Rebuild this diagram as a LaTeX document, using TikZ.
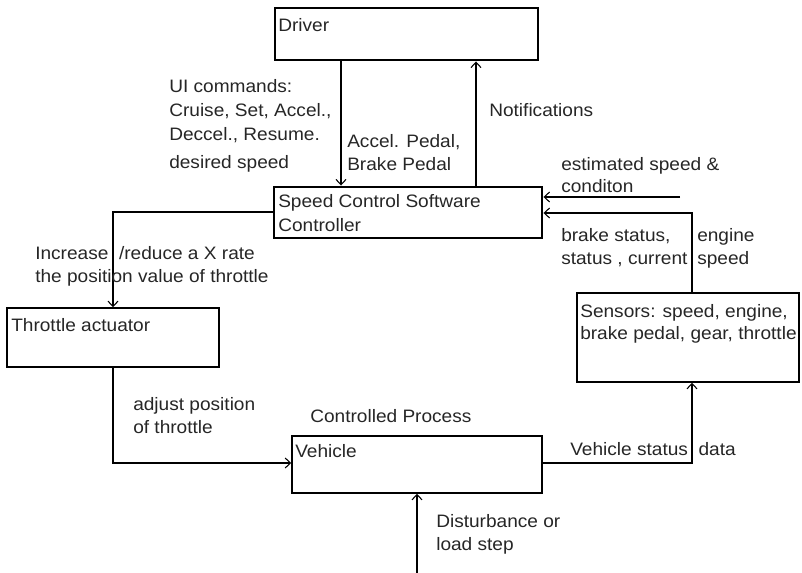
\documentclass[tikz,border=0pt]{standalone}
\usepackage{fontspec}
\setmainfont[FakeStretch=1.06]{Liberation Sans}
\usetikzlibrary{arrows.meta,fit}
\begin{document}
\begin{tikzpicture}[x=0.75pt,y=-0.75pt,
  thinbox/.style={draw, line width=1.1pt, inner sep=0pt},
  thickbox/.style={draw, line width=2.2pt, inner sep=0pt},
  arr/.style={draw, line width=0.8pt, -{Straight Barb[length=4pt,width=7.5pt,line width=0.8pt]}},
  lbl/.style={anchor=base west, inner sep=0pt, text=black!85,
    font=\fontsize{13.5}{16}\selectfont}]
\useasboundingbox (0,0) rectangle (802,573);

% box corners
\coordinate (drvA) at (275,8);   \coordinate (drvB) at (538,60);
\coordinate (ctlA) at (274,187); \coordinate (ctlB) at (542,238);
\coordinate (thrA) at (7,308);   \coordinate (thrB) at (219,367);
\coordinate (vehA) at (292,436); \coordinate (vehB) at (542,493);
\coordinate (senA) at (577,293); \coordinate (senB) at (799,382);

\node[thickbox, fit=(drvA)(drvB)] (driver) {};
\node[thickbox, fit=(ctlA)(ctlB)] (ctrl) {};
\node[thinbox, fit=(thrA)(thrB)] (thr) {};
\node[thinbox, fit=(vehA)(vehB)] (veh) {};
\node[thinbox, fit=(senA)(senB)] (sen) {};

% connector columns and rows
\coordinate (colCmd) at (341,0);
\coordinate (colNote) at (476,0);
\coordinate (colThr) at (113,0);
\coordinate (colSen) at (692,0);
\coordinate (colDist) at (417,0);
\coordinate (rowThr) at (0,212);
\coordinate (rowSen) at (0,213);
\coordinate (rowVeh) at (0,463);
\coordinate (estStart) at (680,197);
\coordinate (distStart) at (417,573);

\draw[arr] (driver.south -| colCmd) -- (ctrl.north -| colCmd);
\draw[arr] (ctrl.north -| colNote) -- (driver.south -| colNote);
\draw[arr] (ctrl.west |- rowThr) -| (thr.north -| colThr);
\draw[arr] (thr.south -| colThr) |- (veh.west |- rowVeh);
\draw[arr] (veh.east |- rowVeh) -| (sen.south -| colSen);
\draw[arr] (sen.north -| colSen) |- (ctrl.east |- rowSen);
\draw[arr] (estStart) -- (ctrl.east |- estStart);
\draw[arr] (distStart) -- (veh.south -| colDist);

% box texts
\node[lbl] (tDriver) at (278,32) {Driver};
\node[lbl] (tCtrl1) at (278,208) {Speed Control Software};
\node[lbl] (tCtrl2) at (278,232) {Controller};
\node[lbl] (tThr) at (11,331) {Throttle actuator};
\node[lbl] (tVeh) at (295,457) {Vehicle};
\node[lbl] (tSen1) at (580,317) {Sensors: speed, engine,};
\node[lbl] (tSen2) at (580,339) {brake pedal, gear, throttle};

% connector labels
\node[lbl] (tUi1) at (169,93) {UI commands:};
\node[lbl] (tUi2) at (169,117) {Cruise, Set, Accel.,};
\node[lbl] (tUi3) at (169,141) {Deccel., Resume.};
\node[lbl] (tUi4) at (169,169) {desired speed};
\node[lbl] (tPed1) at (347,148) {Accel. Pedal,};
\node[lbl] (tPed2) at (347,171) {Brake Pedal};
\node[lbl] (tNote) at (489,117) {Notifications};
\node[lbl] (tInc1) at (35,260) {Increase\ \ /reduce a X rate};
\node[lbl] (tInc2) at (35,283) {the position value of throttle};
\node[lbl] (tEst1) at (561,171) {estimated speed \&};
\node[lbl] (tEst2) at (561,193) {conditon};
\node[lbl] (tBrk1) at (561,242) {brake status,};
\node[lbl] (tBrk2) at (561,265) {status , current};
\node[lbl] (tEng1) at (697,242) {engine};
\node[lbl] (tEng2) at (697,265) {speed};
\node[lbl] (tAdj1) at (133,410) {adjust position};
\node[lbl] (tAdj2) at (133,433) {of throttle};
\node[lbl] (tProc) at (310,422) {Controlled Process};
\node[lbl] (tVst) at (570,455) {Vehicle status\ \ data};
\node[lbl] (tDist1) at (436,527) {Disturbance or};
\node[lbl] (tDist2) at (436,550) {load step};
\end{tikzpicture}
\end{document}
